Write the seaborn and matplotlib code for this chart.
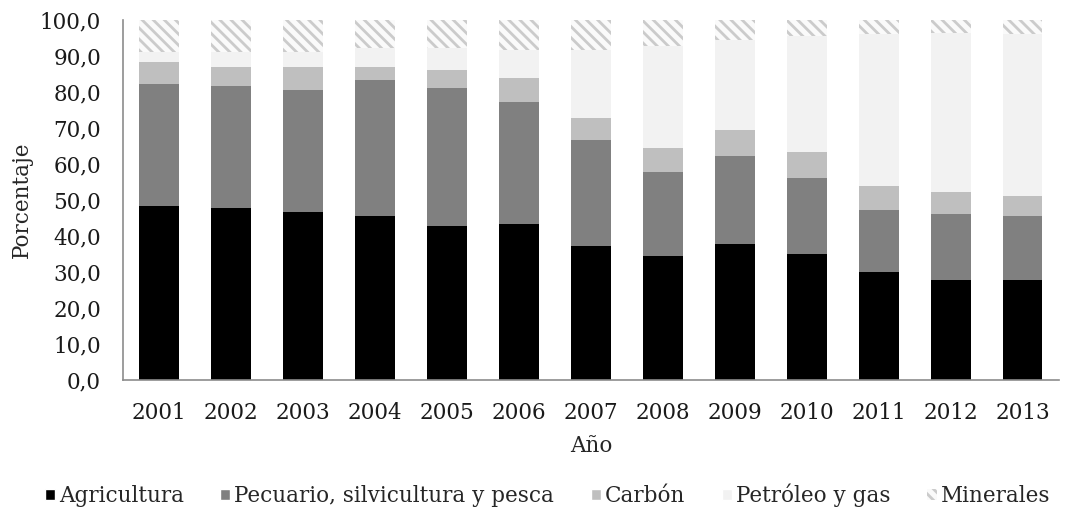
import numpy as np
import matplotlib
matplotlib.use('Agg')
import matplotlib.pyplot as plt
from matplotlib.patches import Patch
import seaborn as sns

# Participación por sector (%)
years = ['2001', '2002', '2003', '2004', '2005', '2006', '2007',
         '2008', '2009', '2010', '2011', '2012', '2013']
agricultura = [48.4, 47.9, 46.8, 45.6, 42.8, 43.4, 37.3, 34.5, 37.9, 35.1, 30.1, 27.9, 27.9]
pecuario = [33.8, 33.7, 33.7, 37.6, 38.2, 33.7, 29.4, 23.3, 24.3, 21.0, 17.1, 18.2, 17.7]
carbon = [6.0, 5.4, 6.5, 3.8, 5.0, 6.7, 6.1, 6.6, 7.2, 7.2, 6.7, 6.1, 5.5]
petroleo = [2.8, 4.0, 4.0, 5.1, 6.1, 7.8, 18.8, 28.4, 25.0, 32.3, 42.2, 44.3, 45.0]
minerales = [9.0, 9.0, 9.0, 7.9, 7.9, 8.4, 8.4, 7.2, 5.6, 4.4, 3.9, 3.5, 3.9]

series_names = ['Agricultura', 'Pecuario, silvicultura y pesca', 'Carbón',
                'Petróleo y gas', 'Minerales']
y_ticks = [0, 10, 20, 30, 40, 50, 60, 70, 80, 90, 100]

sns.set_style('white')
plt.rcParams['font.family'] = ['DejaVu Serif']
plt.rcParams['hatch.linewidth'] = 2.0
plt.rcParams['hatch.color'] = '#cbcbcb'

FS = 15.5
colors = ['#000000', '#808080', '#bfbfbf', '#f2f2f2', '#fafafa']
hatch_col = '#cbcbcb'

fig = plt.figure(figsize=(10.76, 5.09), dpi=100)
ax = fig.add_axes([0.1146, 0.2534, 0.8693, 0.7073])

# stacked bars: draw cumulative totals from the top down
stack = np.cumsum(np.array([agricultura, pecuario, carbon, petroleo, minerales]), axis=0)
for i in range(4, -1, -1):
    kw = dict(edgecolor='none', linewidth=0)
    if i == 4:
        kw = dict(hatch='\\\\\\', edgecolor=hatch_col, linewidth=0)
    sns.barplot(x=years, y=stack[i], color=colors[i], saturation=1, width=0.55,
                ax=ax, **kw)

ax.set_ylim(0, 100)
ax.set_xlim(-0.5, len(years) - 0.5)
ax.set_yticks(y_ticks)
ax.set_yticklabels([f'{v:.1f}'.replace('.', ',') for v in y_ticks])
ax.tick_params(axis='both', length=0, labelsize=FS, colors='#1a1a1a')
ax.tick_params(axis='y', pad=16)
ax.tick_params(axis='x', pad=16)

for s in ['top', 'right']:
    ax.spines[s].set_visible(False)
for s in ['left', 'bottom']:
    ax.spines[s].set_color('#8c8c8c')
    ax.spines[s].set_linewidth(1.2)

ax.set_xlabel('Año', fontsize=FS, labelpad=8)
ax.set_ylabel('Porcentaje', fontsize=FS)
ax.yaxis.set_label_coords(-0.097, 0.5)

handles = [Patch(facecolor=colors[0]), Patch(facecolor=colors[1]),
           Patch(facecolor=colors[2]), Patch(facecolor=colors[3]),
           Patch(facecolor=colors[4], hatch='\\\\\\', edgecolor=hatch_col, linewidth=0)]
fig.legend(handles, series_names, loc='center', bbox_to_anchor=(0.509, 0.027),
           ncol=5, frameon=False, fontsize=FS, handlelength=0.45, handleheight=0.45,
           handletextpad=0.2, columnspacing=1.7, borderaxespad=0)

fig.savefig('out.png', dpi=100)
